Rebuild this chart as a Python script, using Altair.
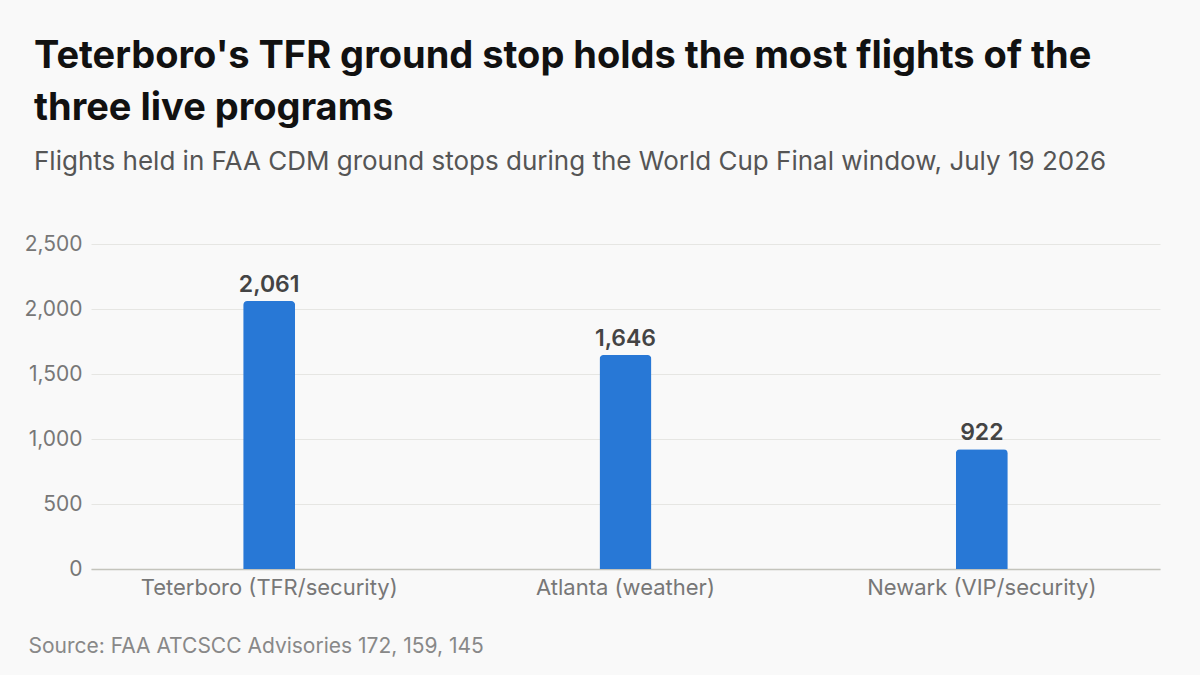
import altair as alt
import pandas as pd

# Ground-stop programs and flights held
programs = ["Teterboro (TFR/security)", "Atlanta (weather)", "Newark (VIP/security)"]
flights_held = [2061, 1646, 922]
y_ticks = [0, 500, 1000, 1500, 2000, 2500]

title_lines = [
    "Teterboro's TFR ground stop holds the most flights of the",
    "three live programs",
]
subtitle = "Flights held in FAA CDM ground stops during the World Cup Final window, July 19 2026"
source = "Source: FAA ATCSCC Advisories 172, 159, 145"

df = pd.DataFrame({"program": programs, "flights": flights_held})

FONT = "Inter"
BAR = "#2878d6"

x = alt.X(
    "program:N",
    sort=programs,
    scale=alt.Scale(paddingInner=0, paddingOuter=0),
    axis=alt.Axis(
        title=source,
        titleFont=FONT,
        titleFontSize=21,
        titleFontWeight="normal",
        titleColor="#888888",
        titleAnchor="start",
        titleAlign="left",
        titleX=-63,
        titleY=66,
        labelAngle=0,
        labelLimit=0,
        labelFont=FONT,
        labelFontSize=22,
        labelColor="#777777",
        labelPadding=8,
        ticks=False,
        domainColor="#c4c4bc",
        domainWidth=1.5,
        grid=False,
    ),
)

y = alt.Y(
    "flights:Q",
    scale=alt.Scale(domain=[0, 2500], nice=False),
    axis=alt.Axis(
        title=None,
        values=y_ticks,
        format=",.0f",
        labelFont=FONT,
        labelFontSize=21,
        labelColor="#777777",
        labelPadding=9,
        ticks=False,
        domain=False,
        gridColor="#e6e6e3",
        gridWidth=1,
    ),
)

bars = alt.Chart(df).mark_bar(
    color=BAR, size=52, cornerRadiusTopLeft=4, cornerRadiusTopRight=4
).encode(x=x, y=y)

labels = alt.Chart(df).mark_text(
    font=FONT, fontSize=23, fontWeight=600, color="#444444", baseline="bottom", dy=-4
).encode(x=x, y=y, text=alt.Text("flights:Q", format=",.0f"))

chart = (
    alt.layer(bars, labels)
    .properties(
        width=1069,
        height=325,
        autosize=alt.AutoSizeParams(type="none"),
        padding={"left": 91, "top": 244, "right": 40, "bottom": 106},
        background="#f9f9f9",
        title=alt.TitleParams(
            text=title_lines,
            subtitle=subtitle,
            anchor="start",
            frame="group",
            dx=-57,
            offset=58,
            font=FONT,
            fontSize=38,
            fontWeight=700,
            color="#111111",
            lineHeight=52,
            subtitleFont=FONT,
            subtitleFontSize=26,
            subtitleColor="#555555",
            subtitlePadding=21,
        ),
    )
    .configure_view(stroke=None)
)

chart.save("out.html", embed_options={"renderer": "svg", "actions": False})
